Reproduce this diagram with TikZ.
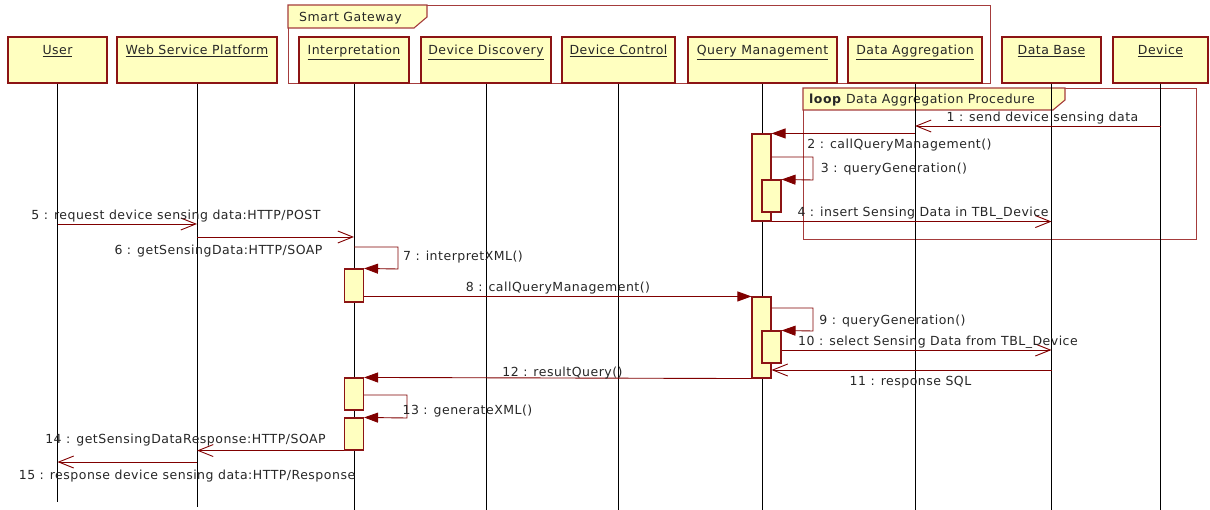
\documentclass[tikz,border=0pt]{standalone}
\usepackage{fontspec}
\setmainfont{DejaVu Sans}[LetterSpace=4]
\usetikzlibrary{arrows.meta}
\definecolor{boxfill}{RGB}{255,255,192}
\definecolor{boxline}{RGB}{140,20,20}
\definecolor{frameline}{RGB}{165,60,60}
\definecolor{msgline}{RGB}{128,0,0}
\begin{document}
\begin{tikzpicture}[x=1pt,y=-1pt,
  every node/.style={font=\fontsize{12.5}{14}\selectfont},
  hdr/.style={draw=boxline, fill=boxfill, line width=1.1pt, inner sep=0pt, minimum height=46pt},
  bar/.style={draw=boxline, fill=boxfill, line width=1.1pt, inner sep=0pt, minimum width=19pt},
  life/.style={line width=0.9pt, draw=black},
  msg/.style={draw=msgline, line width=0.9pt},
  openmsg/.style={msg, -{Straight Barb[length=15pt,width=12pt]}},
  syncmsg/.style={msg, -{Triangle[length=14pt,width=10pt]}},
  lbl/.style={anchor=base, inner sep=0pt, text=black!85},
  frm/.style={draw=frameline, line width=1.1pt, inner sep=0pt},
]
\useasboundingbox (0,0) rectangle (1210,510);

% frames
\node[frm, minimum width=702pt, minimum height=78pt, anchor=north west] (sg) at (288,5) {};
\draw[frm, fill=boxfill] (sg.north west) -- (427,5) -- (427,17) -- (414,28) -- (288,28) -- cycle;
\node[lbl, anchor=base west] (sgt) at (299,22) {Smart Gateway};

\node[frm, minimum width=393pt, minimum height=151pt, anchor=north west] (lp) at (803,88) {};
\draw[frm, fill=boxfill] (lp.north west) -- (1065,88) -- (1065,100) -- (1053,110) -- (803,110) -- cycle;
\node[lbl, anchor=base west] (lpt) at (809,104) {\textbf{loop} Data Aggregation Procedure};

% headers
\node[hdr, minimum width=99pt]  (hUser) at (57.5,60) {};
\node[hdr, minimum width=160pt] (hWSP)  at (197,60) {};
\node[hdr, minimum width=110pt] (hInt)  at (354,60) {};
\node[hdr, minimum width=130pt] (hDD)   at (486,60) {};
\node[hdr, minimum width=113pt] (hDC)   at (618.5,60) {};
\node[hdr, minimum width=149pt] (hQM)   at (762.5,60) {};
\node[hdr, minimum width=134pt] (hDA)   at (915,60) {};
\node[hdr, minimum width=99pt]  (hDB)   at (1051.5,60) {};
\node[hdr, minimum width=95pt]  (hDev)  at (1160.5,60) {};

% lifeline ends
\coordinate (eUser) at (57.5,502);
\coordinate (eWSP) at (197,507);
\coordinate (eInt) at (354,510);
\coordinate (eDD) at (486,510);
\coordinate (eDC) at (618.5,510);
\coordinate (eQM) at (762.5,510);
\coordinate (eDA) at (915,510);
\coordinate (eDB) at (1051.5,510);
\coordinate (eDev) at (1160.5,510);
\foreach \n in {User,WSP,Int,DD,DC,QM,DA,DB,Dev}{
  \draw[life] (h\n.south) -- (e\n);
}

% header labels
\node[lbl] at (hUser |- 0,55) {\underline{User}};
\node[lbl] at (hWSP |- 0,55) {\underline{Web Service Platform}};
\node[lbl] at (hInt |- 0,55) {\underline{Interpretation}};
\node[lbl] at (hDD |- 0,55) {\underline{Device Discovery}};
\node[lbl] at (hDC |- 0,55) {\underline{Device Control}};
\node[lbl] at (hQM |- 0,55) {\underline{Query Management}};
\node[lbl] at (hDA |- 0,55) {\underline{Data Aggregation}};
\node[lbl] at (hDB |- 0,55) {\underline{Data Base}};
\node[lbl] at (hDev |- 0,55) {\underline{Device}};

% activation bars
\node[bar, minimum height=87pt] (a1) at (761.5,177.5) {};
\node[bar, minimum height=32pt] (a2) at (771.5,196) {};
\node[bar, minimum height=33pt] (b1) at (354,285.5) {};
\node[bar, minimum height=81pt] (a3) at (761.5,337.5) {};
\node[bar, minimum height=32pt] (a4) at (771.5,347) {};
\node[bar, minimum height=32pt] (b2) at (354,394) {};
\node[bar, minimum height=32pt] (b3) at (354,434) {};

% messages
\draw[openmsg] (hDev |- 0,126) -- (hDA |- 0,126);
\draw[syncmsg] (hDA |- a1.north) -- (a1.north east);
\draw[syncmsg] (a1.east |- 0,157) -- (813,157) -- (813,180) -- (a2.north east);
\draw[openmsg] (a1.south east) -- (hDB |- a1.south);
\draw[openmsg] (hUser |- 0,224) -- (hWSP |- 0,224);
\draw[openmsg] (hWSP |- 0,237) -- (hInt |- 0,237);
\draw[syncmsg] (hInt |- 0,247) -- (398,247) -- (398,269) -- (b1.north east);
\draw[syncmsg] (b1.east |- a3.north) -- (a3.north west);
\draw[syncmsg] (a3.east |- 0,308) -- (813,308) -- (813,331) -- (a4.north east);
\draw[openmsg] (a4.east |- 0,350) -- (hDB |- 0,350);
\draw[openmsg] (hDB |- 0,370) -- (a3.east |- 0,370);
\draw[syncmsg] (a3.south west) -- (b2.north east);
\draw[syncmsg] (b2.east |- 0,395) -- (407,395) -- (407,418) -- (b3.north east);
\draw[openmsg] (b3.south west) -- (hWSP |- b3.south);
\draw[openmsg] (hWSP |- 0,462) -- (hUser |- 0,462);

% message labels
\node[lbl] at (1042.5,122) {1 : send device sensing data};
\node[lbl] at (899.5,149) {2 : callQueryManagement()};
\node[lbl] at (894,173) {3 : queryGeneration()};
\node[lbl] at (923,217) {4 : insert Sensing Data in TBL\_Device};
\node[lbl] at (176,220) {5 : request device sensing data:HTTP/POST};
\node[lbl] at (218.5,255) {6 : getSensingData:HTTP/SOAP};
\node[lbl] at (463,261) {7 : interpretXML()};
\node[lbl] at (558,292) {8 : callQueryManagement()};
\node[lbl] at (892.5,325) {9 : queryGeneration()};
\node[lbl] at (938,346) {10 : select Sensing Data from TBL\_Device};
\node[lbl] at (910.5,386) {11 : response SQL};
\node[lbl] at (562.5,377) {12 : resultQuery()};
\node[lbl] at (467.5,414) {13 : generateXML()};
\node[lbl] at (185.5,443) {14 : getSensingDataResponse:HTTP/SOAP};
\node[lbl] at (187,479) {15 : response device sensing data:HTTP/Response};
\end{tikzpicture}
\end{document}
